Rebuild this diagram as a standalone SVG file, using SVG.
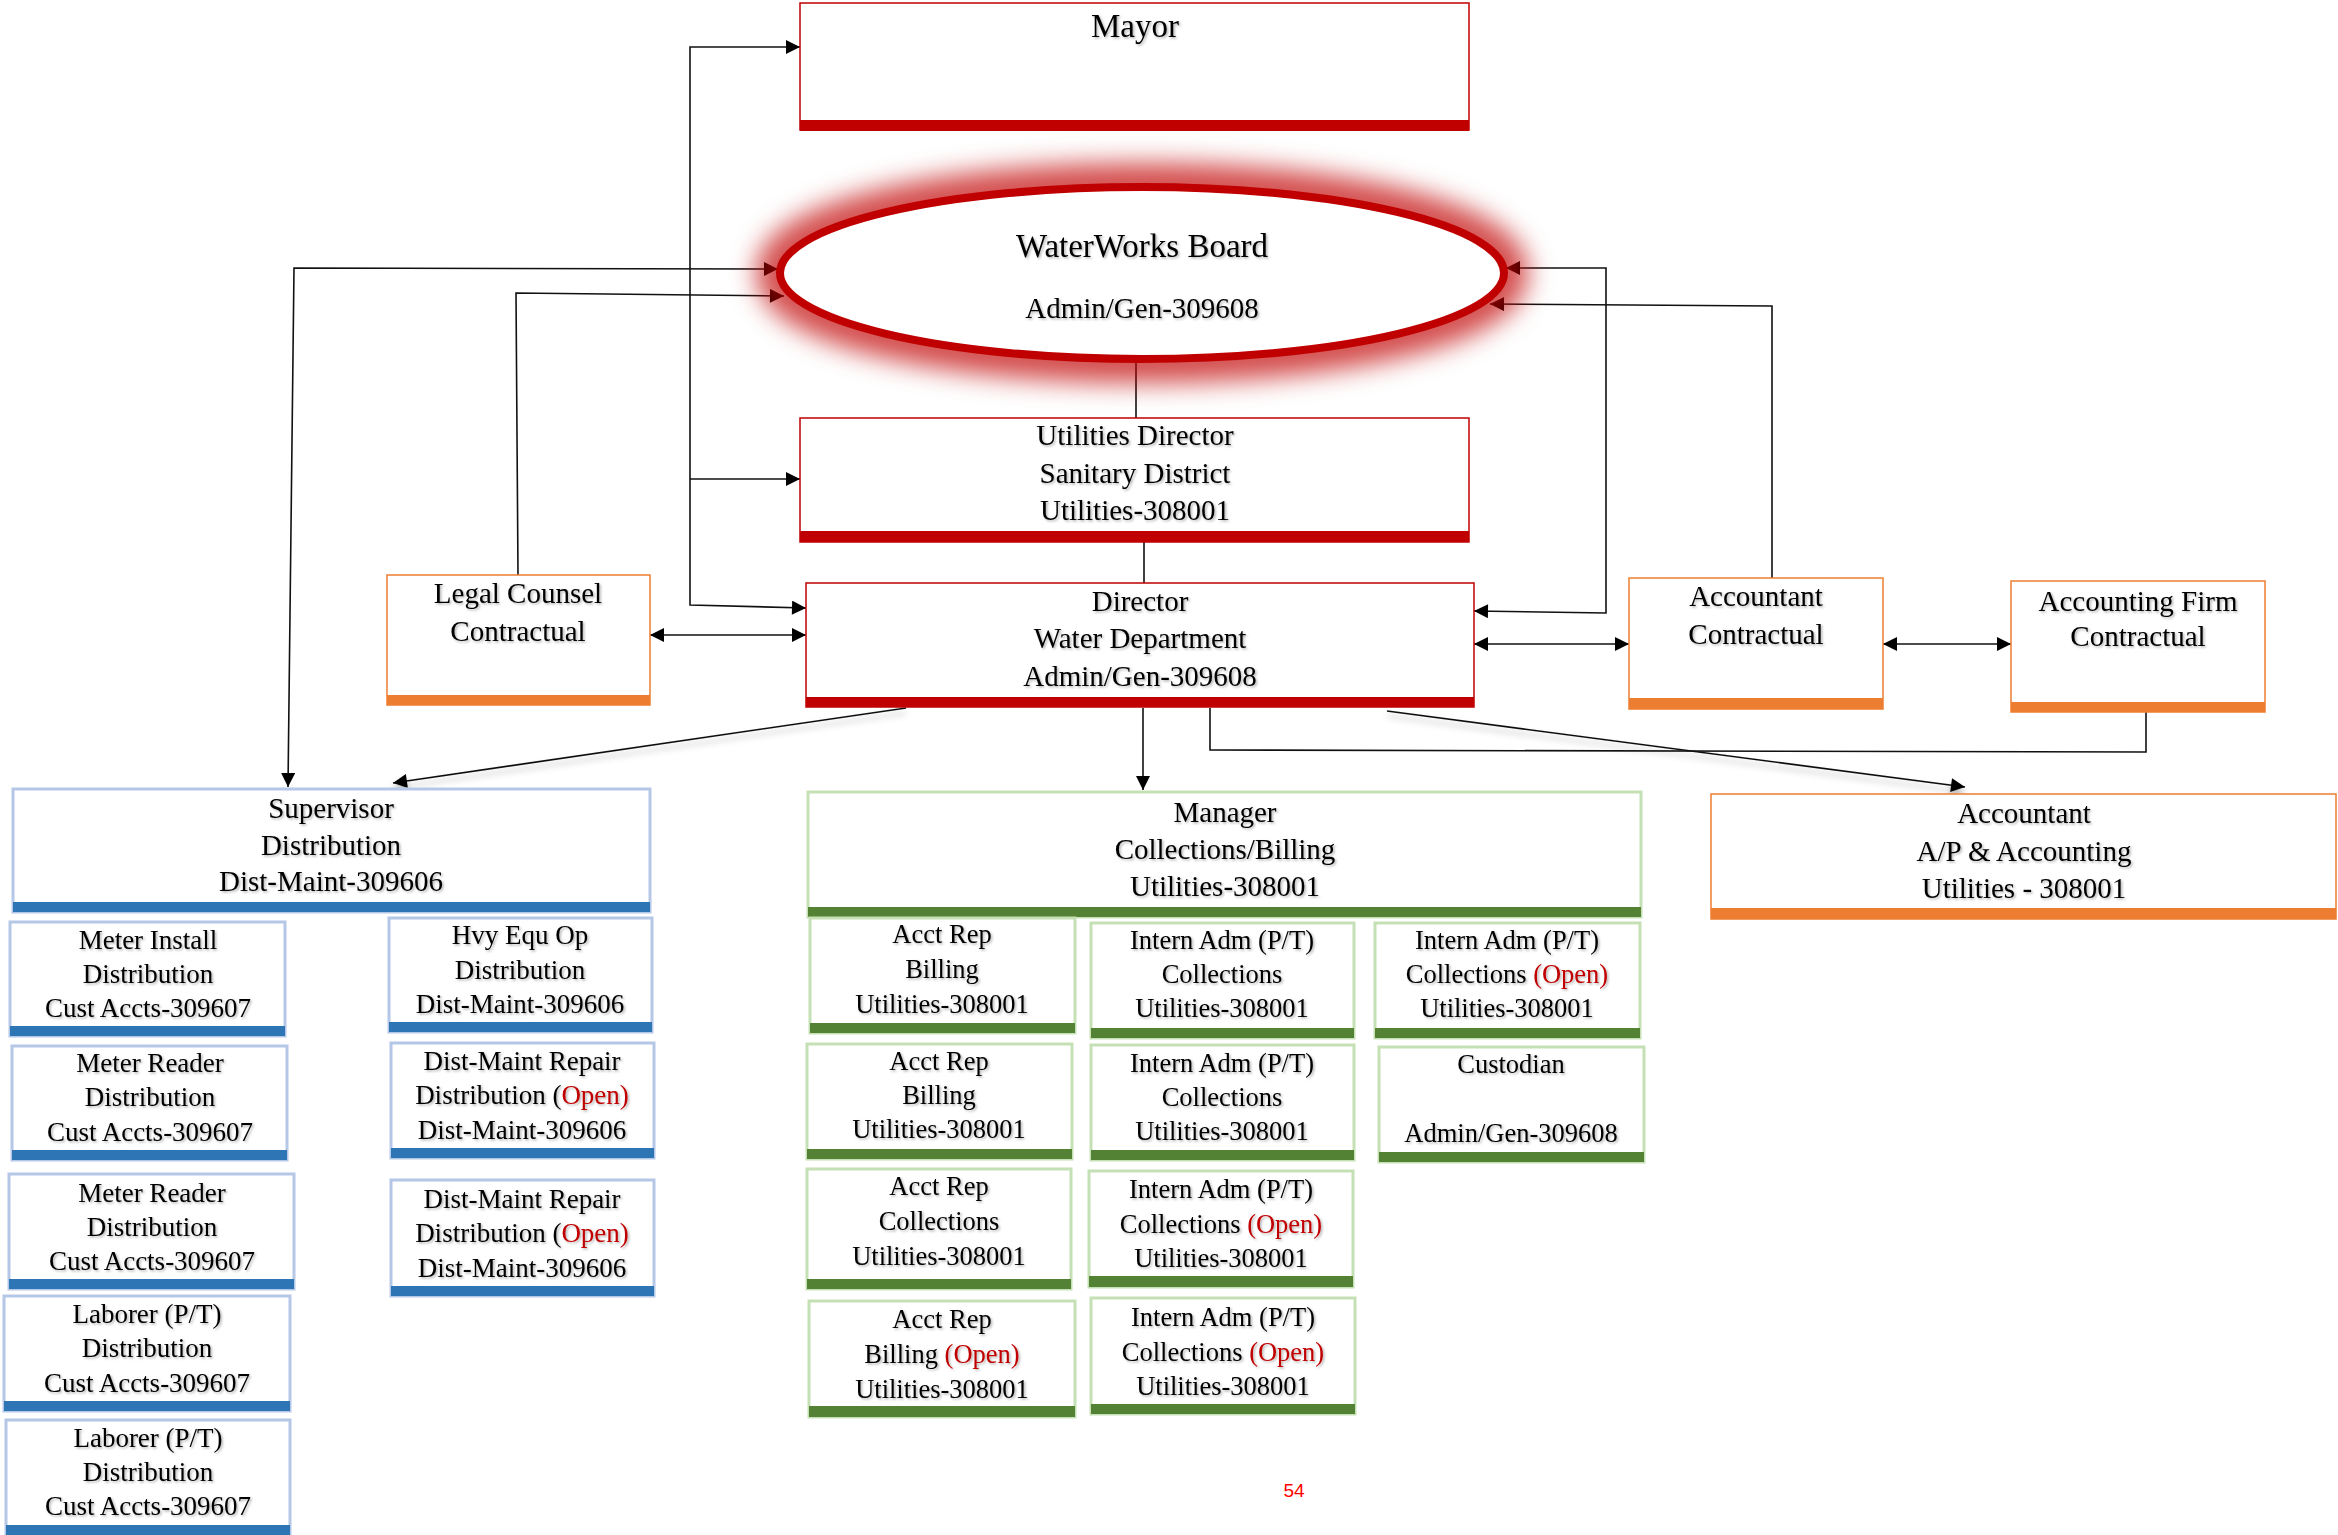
<svg xmlns="http://www.w3.org/2000/svg" width="2338" height="1535" viewBox="0 0 2338 1535">
<defs>
<style>
.txt{font-family:"Liberation Serif","Times New Roman",serif;text-anchor:middle;fill:#000;filter:url(#ts)}
.f33{font-size:33px}.f29{font-size:29px}.f27{font-size:27px}.f26{font-size:26.5px}
.open{fill:#c00000}
.red{fill:#fff;stroke:#c00000;stroke-width:1.5}
.redbar{fill:#c00000}
.org{fill:#fff;stroke:#ed7d31;stroke-width:1.5}
.orgbar{fill:#ed7d31}
.blu{fill:#fff;stroke:#b4c7e7;stroke-width:3}
.blubar{fill:#2e75b6}
.grn{fill:#fff;stroke:#c5e0b4;stroke-width:3}
.grnbar{fill:#548235}
.ln{fill:none;stroke:#111;stroke-width:1.6}
.a2{marker-start:url(#ah);marker-end:url(#ah)}
.a1{marker-end:url(#ah)}
.sh{filter:url(#ls)}
</style>
<marker id="ah" viewBox="0 0 10 10" refX="10" refY="5" markerWidth="16" markerHeight="14" markerUnits="userSpaceOnUse" orient="auto-start-reverse">
<path d="M0,0 L10,5 L0,10 z" fill="#000"/>
</marker>
<filter id="ts" x="-10%" y="-30%" width="120%" height="160%">
<feDropShadow dx="1.5" dy="1.5" stdDeviation="1" flood-color="#000" flood-opacity="0.3"/>
</filter>
<filter id="ls" x="-10%" y="-50%" width="120%" height="200%">
<feDropShadow dx="0" dy="5" stdDeviation="3" flood-color="#000" flood-opacity="0.3"/>
</filter>
<filter id="glow" x="-20%" y="-60%" width="140%" height="220%">
<feGaussianBlur stdDeviation="13"/>
</filter>
</defs>
<rect width="2338" height="1535" fill="#fff"/>

<g id="connectors">
<path class="ln a2" d="M800,47 L690,47 L690,605 L806,608"/>
<path class="ln a1" d="M690,479 L800,479"/>
<path class="ln a2" d="M650,635 L806,635"/>
<path class="ln a1" d="M518,575 L516,293 L784,296"/>
<path class="ln a2" d="M778,269 L294,268 L288,787"/>
<path class="ln a1 sh" d="M906,708 L393,783"/>
<path class="ln a1" d="M1143,708 L1143,790"/>
<path class="ln" d="M1210,708 L1210,750 L2146,752 L2146,712"/>
<path class="ln a1 sh" d="M1387,711 L1965,787"/>
<path class="ln" d="M1144,542 L1144,583"/>
<path class="ln" d="M1136,360 L1136,418"/>
<path class="ln a1" d="M1772,578 L1772,306 L1490,304"/>
<path class="ln a2" d="M1474,611 L1606,613 L1606,268 L1506,268"/>
<path class="ln a2" d="M1474,644 L1629,644"/>
<path class="ln a2" d="M1883,644 L2011,644"/>
</g>

<g id="mayor">
<rect class="red" x="800" y="3" width="669" height="127"/>
<rect class="redbar" x="800" y="120" width="669" height="11"/>
<text class="txt f33" x="1135" y="37">Mayor</text>
</g>

<g id="waterworks-board">
<ellipse cx="1142" cy="273" rx="364" ry="88" fill="none" stroke="#c00000" stroke-width="44" stroke-opacity="0.7" filter="url(#glow)"/>
<ellipse cx="1142" cy="273" rx="362" ry="86" fill="#fff" stroke="#c00000" stroke-width="8"/>
<text class="txt f33" x="1142" y="257">WaterWorks Board</text>
<text class="txt f29" x="1142" y="318">Admin/Gen-309608</text>
</g>

<g id="utilities-director">
<rect class="red" x="800" y="418" width="669" height="124"/>
<rect class="redbar" x="800" y="531" width="669" height="11"/>
<text class="txt f29" x="1135" y="445">Utilities Director</text>
<text class="txt f29" x="1135" y="483">Sanitary District</text>
<text class="txt f29" x="1135" y="520">Utilities-308001</text>
</g>

<g id="director">
<rect class="red" x="806" y="583" width="668" height="124"/>
<rect class="redbar" x="806" y="697" width="668" height="10"/>
<text class="txt f29" x="1140" y="611">Director</text>
<text class="txt f29" x="1140" y="648">Water Department</text>
<text class="txt f29" x="1140" y="686">Admin/Gen-309608</text>
</g>

<g id="legal-counsel">
<rect class="org" x="387" y="575" width="263" height="130"/>
<rect class="orgbar" x="387" y="695" width="263" height="10"/>
<text class="txt f29" x="518" y="603">Legal Counsel</text>
<text class="txt f29" x="518" y="641">Contractual</text>
</g>

<g id="accountant-contractual">
<rect class="org" x="1629" y="578" width="254" height="131"/>
<rect class="orgbar" x="1629" y="698" width="254" height="11"/>
<text class="txt f29" x="1756" y="606">Accountant</text>
<text class="txt f29" x="1756" y="644">Contractual</text>
</g>

<g id="accounting-firm">
<rect class="org" x="2011" y="581" width="254" height="131"/>
<rect class="orgbar" x="2011" y="702" width="254" height="10"/>
<text class="txt f29" x="2138" y="611">Accounting Firm</text>
<text class="txt f29" x="2138" y="646">Contractual</text>
</g>

<g id="supervisor">
<rect class="blu" x="13" y="789" width="637" height="123"/>
<rect class="blubar" x="13" y="902" width="637" height="10"/>
<text class="txt f29" x="331" y="818">Supervisor</text>
<text class="txt f29" x="331" y="855">Distribution</text>
<text class="txt f29" x="331" y="891">Dist-Maint-309606</text>
</g>

<g id="manager">
<rect class="grn" x="808" y="792" width="833" height="125"/>
<rect class="grnbar" x="808" y="907" width="833" height="10"/>
<text class="txt f29" x="1225" y="822">Manager</text>
<text class="txt f29" x="1225" y="859">Collections/Billing</text>
<text class="txt f29" x="1225" y="896">Utilities-308001</text>
</g>

<g id="accountant-ap">
<rect class="org" x="1711" y="794" width="625" height="125"/>
<rect class="orgbar" x="1711" y="908" width="625" height="11"/>
<text class="txt f29" x="2024" y="823">Accountant</text>
<text class="txt f29" x="2024" y="861">A/P &amp; Accounting</text>
<text class="txt f29" x="2024" y="898">Utilities - 308001</text>
</g>

<g id="meter-install">
<rect class="blu" x="10" y="922" width="275" height="114"/>
<rect class="blubar" x="10" y="1026" width="275" height="10"/>
<text class="txt f27" x="148" y="949">Meter Install</text>
<text class="txt f27" x="148" y="983">Distribution</text>
<text class="txt f27" x="148" y="1017">Cust Accts-309607</text>
</g>

<g id="hvy-equ-op">
<rect class="blu" x="389" y="918" width="263" height="114"/>
<rect class="blubar" x="389" y="1022" width="263" height="10"/>
<text class="txt f27" x="520" y="944">Hvy Equ Op</text>
<text class="txt f27" x="520" y="979">Distribution</text>
<text class="txt f27" x="520" y="1013">Dist-Maint-309606</text>
</g>

<g id="meter-reader-1">
<rect class="blu" x="12" y="1046" width="275" height="114"/>
<rect class="blubar" x="12" y="1150" width="275" height="10"/>
<text class="txt f27" x="150" y="1072">Meter Reader</text>
<text class="txt f27" x="150" y="1106">Distribution</text>
<text class="txt f27" x="150" y="1141">Cust Accts-309607</text>
</g>

<g id="dist-maint-repair-1">
<rect class="blu" x="391" y="1043" width="263" height="115"/>
<rect class="blubar" x="391" y="1148" width="263" height="10"/>
<text class="txt f27" x="522" y="1070">Dist-Maint Repair</text>
<text class="txt f27" x="522" y="1104">Distribution (<tspan class="open">Open)</tspan></text>
<text class="txt f27" x="522" y="1139">Dist-Maint-309606</text>
</g>

<g id="meter-reader-2">
<rect class="blu" x="9" y="1174" width="285" height="115"/>
<rect class="blubar" x="9" y="1279" width="285" height="10"/>
<text class="txt f27" x="152" y="1202">Meter Reader</text>
<text class="txt f27" x="152" y="1236">Distribution</text>
<text class="txt f27" x="152" y="1270">Cust Accts-309607</text>
</g>

<g id="dist-maint-repair-2">
<rect class="blu" x="391" y="1180" width="263" height="116"/>
<rect class="blubar" x="391" y="1286" width="263" height="10"/>
<text class="txt f27" x="522" y="1208">Dist-Maint Repair</text>
<text class="txt f27" x="522" y="1242">Distribution (<tspan class="open">Open)</tspan></text>
<text class="txt f27" x="522" y="1277">Dist-Maint-309606</text>
</g>

<g id="laborer-1">
<rect class="blu" x="4" y="1296" width="286" height="115"/>
<rect class="blubar" x="4" y="1401" width="286" height="10"/>
<text class="txt f27" x="147" y="1323">Laborer (P/T)</text>
<text class="txt f27" x="147" y="1357">Distribution</text>
<text class="txt f27" x="147" y="1392">Cust Accts-309607</text>
</g>

<g id="laborer-2">
<rect class="blu" x="6" y="1420" width="284" height="115"/>
<rect class="blubar" x="6" y="1525" width="284" height="10"/>
<text class="txt f27" x="148" y="1447">Laborer (P/T)</text>
<text class="txt f27" x="148" y="1481">Distribution</text>
<text class="txt f27" x="148" y="1515">Cust Accts-309607</text>
</g>

<g id="acct-rep-1">
<rect class="grn" x="810" y="918" width="265" height="115"/>
<rect class="grnbar" x="810" y="1023" width="265" height="10"/>
<text class="txt f26" x="942" y="943">Acct Rep</text>
<text class="txt f26" x="942" y="978">Billing</text>
<text class="txt f26" x="942" y="1013">Utilities-308001</text>
</g>

<g id="intern-adm-1">
<rect class="grn" x="1091" y="923" width="263" height="115"/>
<rect class="grnbar" x="1091" y="1028" width="263" height="10"/>
<text class="txt f26" x="1222" y="949">Intern Adm (P/T)</text>
<text class="txt f26" x="1222" y="983">Collections</text>
<text class="txt f26" x="1222" y="1017">Utilities-308001</text>
</g>

<g id="intern-adm-open-1">
<rect class="grn" x="1375" y="923" width="265" height="115"/>
<rect class="grnbar" x="1375" y="1028" width="265" height="10"/>
<text class="txt f26" x="1507" y="949">Intern Adm (P/T)</text>
<text class="txt f26" x="1507" y="983">Collections <tspan class="open">(Open)</tspan></text>
<text class="txt f26" x="1507" y="1017">Utilities-308001</text>
</g>

<g id="acct-rep-2">
<rect class="grn" x="807" y="1044" width="265" height="115"/>
<rect class="grnbar" x="807" y="1149" width="265" height="10"/>
<text class="txt f26" x="939" y="1070">Acct Rep</text>
<text class="txt f26" x="939" y="1104">Billing</text>
<text class="txt f26" x="939" y="1138">Utilities-308001</text>
</g>

<g id="intern-adm-2">
<rect class="grn" x="1091" y="1045" width="263" height="115"/>
<rect class="grnbar" x="1091" y="1150" width="263" height="10"/>
<text class="txt f26" x="1222" y="1072">Intern Adm (P/T)</text>
<text class="txt f26" x="1222" y="1106">Collections</text>
<text class="txt f26" x="1222" y="1140">Utilities-308001</text>
</g>

<g id="custodian">
<rect class="grn" x="1379" y="1047" width="265" height="115"/>
<rect class="grnbar" x="1379" y="1152" width="265" height="10"/>
<text class="txt f26" x="1511" y="1073">Custodian</text>
<text class="txt f26" x="1511" y="1142">Admin/Gen-309608</text>
</g>

<g id="acct-rep-3">
<rect class="grn" x="807" y="1169" width="264" height="120"/>
<rect class="grnbar" x="807" y="1279" width="264" height="10"/>
<text class="txt f26" x="939" y="1195">Acct Rep</text>
<text class="txt f26" x="939" y="1230">Collections</text>
<text class="txt f26" x="939" y="1265">Utilities-308001</text>
</g>

<g id="intern-adm-open-2">
<rect class="grn" x="1089" y="1171" width="264" height="116"/>
<rect class="grnbar" x="1089" y="1276" width="264" height="11"/>
<text class="txt f26" x="1221" y="1198">Intern Adm (P/T)</text>
<text class="txt f26" x="1221" y="1233">Collections <tspan class="open">(Open)</tspan></text>
<text class="txt f26" x="1221" y="1267">Utilities-308001</text>
</g>

<g id="acct-rep-open">
<rect class="grn" x="809" y="1301" width="266" height="116"/>
<rect class="grnbar" x="809" y="1406" width="266" height="11"/>
<text class="txt f26" x="942" y="1328">Acct Rep</text>
<text class="txt f26" x="942" y="1363">Billing <tspan class="open">(Open)</tspan></text>
<text class="txt f26" x="942" y="1398">Utilities-308001</text>
</g>

<g id="intern-adm-open-3">
<rect class="grn" x="1091" y="1298" width="264" height="116"/>
<rect class="grnbar" x="1091" y="1404" width="264" height="10"/>
<text class="txt f26" x="1223" y="1326">Intern Adm (P/T)</text>
<text class="txt f26" x="1223" y="1361">Collections <tspan class="open">(Open)</tspan></text>
<text class="txt f26" x="1223" y="1395">Utilities-308001</text>
</g>

<text x="1294" y="1497" font-family="'Liberation Sans',Arial,sans-serif" font-size="19" fill="#ff0000" text-anchor="middle">54</text>
</svg>
